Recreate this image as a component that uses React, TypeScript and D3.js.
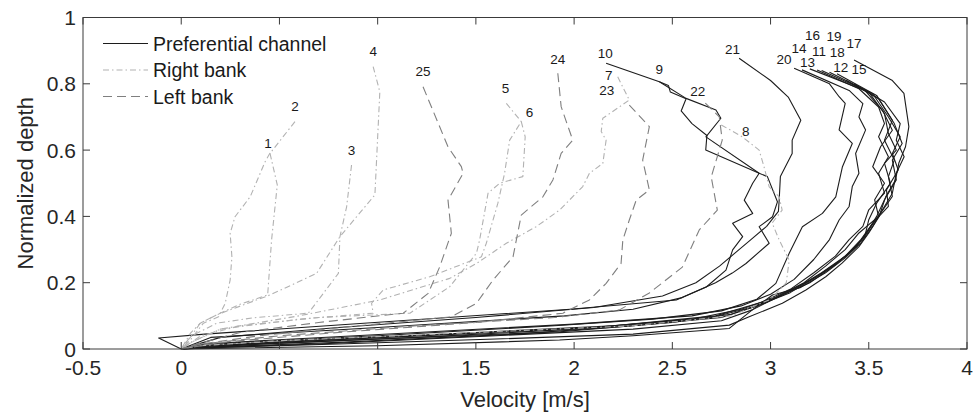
import React, { useEffect, useRef } from "react";
import * as d3 from "d3";

interface Profile {
    id: number;
    v: number[];
    d: number[];
}

// Right bank profiles (dash-dot)
const rightBank: Profile[] = [
    { id: 1, v: [0.452, 0.427, 0.351, 0.274, 0.249, 0.258, 0.249, 0.224, 0.19, 0.113, 0.046, 0], d: [0.591, 0.565, 0.459, 0.399, 0.349, 0.278, 0.208, 0.138, 0.097, 0.078, 0.027, 0] },
    { id: 2, v: [0.579, 0.452, 0.489, 0.46, 0.44, 0.3, 0.181, 0.097, 0.04, 0], d: [0.686, 0.59, 0.495, 0.329, 0.163, 0.135, 0.103, 0.078, 0.03, 0] },
    { id: 3, v: [0.867, 0.842, 0.808, 0.8, 0.647, 0.366, 0.181, 0.046, 0], d: [0.555, 0.429, 0.339, 0.228, 0.108, 0.094, 0.078, 0.037, 0] },
    { id: 4, v: [0.977, 1.011, 0.986, 0.808, 0.689, 0.452, 0.181, 0.097, 0.046, 0], d: [0.852, 0.776, 0.465, 0.339, 0.228, 0.163, 0.103, 0.078, 0.047, 0] },
    { id: 5, v: [1.655, 1.731, 1.672, 1.646, 1.612, 1.553, 1.528, 1.265, 1.028, 0.969, 0.977, 0.6, 0.2, 0.05, 0], d: [0.741, 0.686, 0.63, 0.53, 0.44, 0.319, 0.278, 0.218, 0.178, 0.138, 0.108, 0.09, 0.06, 0.02, 0] },
    { id: 6, v: [1.731, 1.751, 1.739, 1.621, 1.562, 1.519, 1.503, 1.367, 1.164, 0.7, 0.3, 0.1, 0], d: [0.686, 0.64, 0.52, 0.5, 0.47, 0.329, 0.289, 0.188, 0.108, 0.095, 0.07, 0.04, 0] },
    { id: 7, v: [2.222, 2.281, 2.146, 2.138, 2.163, 2.146, 2.078, 2.044, 1.926, 1.807, 1.655, 1.503, 1.367, 1.011, 0.6, 0.2, 0.05, 0], d: [0.821, 0.751, 0.696, 0.656, 0.63, 0.56, 0.53, 0.49, 0.419, 0.369, 0.319, 0.258, 0.213, 0.148, 0.1, 0.06, 0.02, 0] },
    { id: 8, v: [2.749, 2.856, 2.942, 2.967, 2.993, 3.044, 3.059, 3.008, 3.044, 3.095, 3.08, 3.0, 2.8, 2.3, 1.5, 0.5, 0.1, 0], d: [0.676, 0.64, 0.6, 0.549, 0.489, 0.459, 0.419, 0.38, 0.329, 0.268, 0.2, 0.15, 0.1, 0.07, 0.05, 0.025, 0.01, 0] },
];

// Left bank profiles (dashed)
const leftBank: Profile[] = [
    { id: 22, v: [2.668, 2.739, 2.754, 2.698, 2.729, 2.637, 2.551, 2.383, 2.231, 1.9, 1.2, 0.5, 0.1, 0], d: [0.742, 0.7, 0.63, 0.519, 0.419, 0.359, 0.247, 0.169, 0.118, 0.095, 0.07, 0.04, 0.015, 0] },
    { id: 23, v: [2.281, 2.383, 2.349, 2.383, 2.316, 2.281, 2.248, 2.239, 2.163, 2.078, 1.943, 1.5, 0.8, 0.2, 0], d: [0.736, 0.671, 0.57, 0.48, 0.449, 0.389, 0.329, 0.258, 0.198, 0.148, 0.108, 0.08, 0.05, 0.02, 0] },
    { id: 24, v: [1.917, 1.934, 1.993, 1.934, 1.892, 1.841, 1.731, 1.706, 1.689, 1.587, 1.503, 1.375, 0.9, 0.4, 0.1, 0], d: [0.832, 0.731, 0.63, 0.59, 0.51, 0.459, 0.404, 0.329, 0.278, 0.208, 0.138, 0.097, 0.07, 0.04, 0.015, 0] },
    { id: 25, v: [1.231, 1.358, 1.426, 1.435, 1.358, 1.375, 1.316, 1.257, 1.13, 0.7, 0.3, 0.05, 0], d: [0.791, 0.61, 0.55, 0.53, 0.449, 0.349, 0.248, 0.168, 0.108, 0.08, 0.05, 0.01, 0] },
];

// Preferential channel profiles (solid)
const channel: Profile[] = [
    { id: 9, v: [2.434, 2.48, 2.49, 2.57, 2.545, 2.6, 2.676, 2.67, 2.942, 2.984, 3.035, 3.01, 2.942, 2.993, 2.875, 2.805, 2.72, 2.55, 2.3, 1.95, 1.0, 0.15, 0], d: [0.806, 0.795, 0.775, 0.755, 0.718, 0.68, 0.644, 0.6, 0.53, 0.52, 0.444, 0.399, 0.369, 0.319, 0.258, 0.229, 0.2, 0.155, 0.12, 0.1, 0.065, 0.035, 0] },
    { id: 10, v: [2.163, 2.434, 2.57, 2.722, 2.747, 2.671, 2.942, 2.909, 2.866, 2.909, 2.807, 2.858, 2.807, 2.773, 2.673, 2.52, 1.98, 0.12, -0.115, 0], d: [0.862, 0.806, 0.756, 0.721, 0.696, 0.64, 0.53, 0.5, 0.449, 0.409, 0.379, 0.339, 0.299, 0.238, 0.187, 0.148, 0.12, 0.045, 0.033, 0] },
    { id: 11, v: [3.26, 3.5, 3.58, 3.6, 3.64, 3.58, 3.61, 3.54, 3.5, 3.48, 3.4, 3.32, 3.2, 3.05, 2.9, 2.7, 2.1, 1.4, 0.5, 0.12, 0], d: [0.84, 0.775, 0.71, 0.65, 0.6, 0.56, 0.5, 0.44, 0.39, 0.34, 0.29, 0.25, 0.2, 0.16, 0.125, 0.095, 0.065, 0.045, 0.02, 0.008, 0] },
    { id: 12, v: [3.384, 3.55, 3.63, 3.67, 3.62, 3.64, 3.58, 3.54, 3.49, 3.42, 3.33, 3.21, 3.06, 2.907, 2.75, 2.3, 1.6, 0.7, 0.15, 0], d: [0.811, 0.755, 0.68, 0.62, 0.57, 0.51, 0.45, 0.4, 0.35, 0.3, 0.255, 0.21, 0.165, 0.118, 0.085, 0.06, 0.04, 0.015, 0.005, 0] },
    { id: 13, v: [3.237, 3.45, 3.55, 3.58, 3.55, 3.6, 3.55, 3.58, 3.5, 3.47, 3.4, 3.33, 3.22, 3.1, 2.95, 2.72, 2.2, 1.5, 0.6, 0.15, 0], d: [0.842, 0.785, 0.73, 0.68, 0.64, 0.58, 0.53, 0.47, 0.42, 0.37, 0.33, 0.28, 0.23, 0.18, 0.14, 0.1, 0.07, 0.05, 0.025, 0.01, 0] },
    { id: 14, v: [3.16, 3.4, 3.47, 3.45, 3.484, 3.433, 3.45, 3.416, 3.4, 3.349, 3.3, 3.22, 3.12, 3.0, 2.85, 2.6, 2.0, 1.2, 0.4, 0.12, 0], d: [0.842, 0.78, 0.74, 0.7, 0.661, 0.59, 0.53, 0.49, 0.43, 0.389, 0.33, 0.27, 0.21, 0.165, 0.13, 0.1, 0.075, 0.05, 0.025, 0.015, 0] },
    { id: 15, v: [3.425, 3.58, 3.66, 3.64, 3.68, 3.64, 3.62, 3.57, 3.52, 3.46, 3.38, 3.28, 3.15, 3.01, 2.907, 2.79, 2.3, 1.926, 1.0, 0.3, 0], d: [0.8, 0.745, 0.68, 0.63, 0.58, 0.53, 0.47, 0.42, 0.37, 0.32, 0.275, 0.23, 0.185, 0.163, 0.118, 0.062, 0.04, 0.027, 0.01, 0.003, 0] },
    { id: 16, v: [3.2, 3.48, 3.57, 3.62, 3.56, 3.52, 3.58, 3.53, 3.55, 3.45, 3.38, 3.28, 3.17, 3.02, 2.85, 2.6, 2.0, 1.2, 0.4, 0], d: [0.845, 0.78, 0.72, 0.66, 0.61, 0.55, 0.5, 0.45, 0.4, 0.35, 0.3, 0.25, 0.2, 0.155, 0.12, 0.09, 0.06, 0.035, 0.015, 0] },
    { id: 17, v: [3.425, 3.618, 3.679, 3.704, 3.687, 3.653, 3.636, 3.586, 3.552, 3.5, 3.45, 3.364, 3.281, 3.18, 3.06, 2.891, 2.79, 2.3, 1.6, 0.8, 0.2, 0], d: [0.872, 0.811, 0.771, 0.671, 0.61, 0.561, 0.51, 0.459, 0.399, 0.35, 0.309, 0.259, 0.218, 0.178, 0.138, 0.097, 0.072, 0.045, 0.03, 0.015, 0.005, 0] },
    { id: 18, v: [3.338, 3.54, 3.62, 3.58, 3.63, 3.6, 3.62, 3.56, 3.5, 3.44, 3.35, 3.24, 3.1, 2.93, 2.75, 2.3, 1.7, 0.8, 0.2, 0], d: [0.83, 0.765, 0.69, 0.63, 0.57, 0.52, 0.46, 0.41, 0.36, 0.31, 0.265, 0.22, 0.17, 0.13, 0.095, 0.07, 0.045, 0.02, 0.007, 0] },
    { id: 19, v: [3.3, 3.52, 3.6, 3.66, 3.62, 3.65, 3.59, 3.6, 3.52, 3.46, 3.38, 3.26, 3.12, 2.98, 2.8, 2.5, 1.93, 1.0, 0.3, 0], d: [0.835, 0.77, 0.7, 0.64, 0.59, 0.54, 0.48, 0.43, 0.38, 0.33, 0.28, 0.23, 0.18, 0.14, 0.105, 0.08, 0.052, 0.03, 0.012, 0] },
    { id: 20, v: [3.12, 3.3, 3.349, 3.38, 3.349, 3.416, 3.366, 3.332, 3.264, 3.162, 3.095, 3.027, 2.93, 2.75, 2.4, 1.9, 1.0, 0.3, 0.1, 0], d: [0.847, 0.8, 0.761, 0.741, 0.661, 0.62, 0.55, 0.459, 0.409, 0.369, 0.289, 0.198, 0.15, 0.115, 0.09, 0.07, 0.04, 0.02, 0.01, 0] },
    { id: 21, v: [2.84, 3.0, 3.09, 3.154, 3.11, 3.11, 3.05, 3.044, 3.04, 2.98, 2.9, 2.82, 2.74, 2.62, 2.45, 2.1, 1.5, 0.8, 0.2, 0], d: [0.877, 0.81, 0.76, 0.69, 0.63, 0.59, 0.52, 0.45, 0.415, 0.37, 0.33, 0.29, 0.25, 0.2, 0.16, 0.125, 0.095, 0.065, 0.035, 0] },
];

// Profile number annotations (data units)
const labelIds = [1, 2, 3, 4, 5, 6, 7, 8, 9, 10, 11, 12, 13, 14, 15, 16, 17, 18, 19, 20, 21, 22, 23, 24, 25];
const labelV = [0.442, 0.579, 0.867, 0.977, 1.651, 1.773, 2.176, 2.874, 2.434, 2.158, 3.247, 3.357, 3.188, 3.145, 3.45, 3.213, 3.425, 3.34, 3.323, 3.069, 2.806, 2.629, 2.166, 1.917, 1.231];
const labelD = [0.62, 0.731, 0.598, 0.897, 0.786, 0.713, 0.826, 0.656, 0.842, 0.89, 0.897, 0.849, 0.864, 0.907, 0.842, 0.947, 0.922, 0.894, 0.942, 0.874, 0.904, 0.776, 0.781, 0.872, 0.837];

const xTicks = [-0.5, 0, 0.5, 1, 1.5, 2, 2.5, 3, 3.5, 4];
const yTicks = [0, 0.2, 0.4, 0.6, 0.8, 1];
const legendNames = ["Preferential channel", "Right bank", "Left bank"];

const FONT = "'Liberation Sans', Arial, Helvetica, sans-serif";

export default function App() {
    const svgRef = useRef<SVGSVGElement>(null);

    useEffect(() => {
        if (!svgRef.current) return;
        const root = d3.select(svgRef.current);
        root.selectAll("*").remove();

        const W = 976, H = 417;
        const margin = { top: 17.5, right: 9, bottom: 68, left: 83 };
        const width = W - margin.left - margin.right;
        const height = H - margin.top - margin.bottom;

        const x = d3.scaleLinear().domain([-0.5, 4]).range([0, width]);
        const y = d3.scaleLinear().domain([0, 1]).range([height, 0]);

        const g = root.append("g").attr("transform", `translate(${margin.left},${margin.top})`);

        const styles = {
            channel: { stroke: "#1c1c1c", dash: null as string | null, width: 1.1 },
            right: { stroke: "#b2b2b2", dash: "6,3,1.5,3", width: 1.1 },
            left: { stroke: "#7f7f7f", dash: "9,5", width: 1.1 },
        };

        const drawGroup = (profiles: Profile[], st: { stroke: string; dash: string | null; width: number }) => {
            profiles.forEach(p => {
                const line = d3.line<number>()
                    .x((_, i) => x(p.v[i]))
                    .y((_, i) => y(p.d[i]));
                g.append("path")
                    .attr("d", line(p.v))
                    .attr("fill", "none")
                    .attr("stroke", st.stroke)
                    .attr("stroke-width", st.width)
                    .attr("stroke-dasharray", st.dash)
                    .attr("stroke-linejoin", "round");
            });
        };

        drawGroup(channel, styles.channel);
        drawGroup(rightBank, styles.right);
        drawGroup(leftBank, styles.left);

        // Profile numbers
        labelIds.forEach((id, i) => {
            g.append("text")
                .attr("x", x(labelV[i]))
                .attr("y", y(labelD[i]))
                .attr("text-anchor", "middle")
                .attr("dominant-baseline", "central")
                .style("font-family", FONT)
                .style("font-size", "13.5px")
                .style("fill", "#1a1a1a")
                .text(id);
        });

        // Axes box and inward ticks
        const axisColor = "#3a3a3a";
        g.append("rect")
            .attr("width", width).attr("height", height)
            .attr("fill", "none").attr("stroke", axisColor).attr("stroke-width", 1);

        const tl = 7;
        xTicks.forEach(t => {
            g.append("line").attr("x1", x(t)).attr("x2", x(t)).attr("y1", height).attr("y2", height - tl).attr("stroke", axisColor);
            g.append("line").attr("x1", x(t)).attr("x2", x(t)).attr("y1", 0).attr("y2", tl).attr("stroke", axisColor);
            g.append("text")
                .attr("x", x(t)).attr("y", height + 18)
                .attr("text-anchor", "middle").attr("dominant-baseline", "central")
                .style("font-family", FONT).style("font-size", "21px").style("fill", "#262626")
                .text(String(t));
        });
        yTicks.forEach(t => {
            g.append("line").attr("x1", 0).attr("x2", tl).attr("y1", y(t)).attr("y2", y(t)).attr("stroke", axisColor);
            g.append("line").attr("x1", width).attr("x2", width - tl).attr("y1", y(t)).attr("y2", y(t)).attr("stroke", axisColor);
            g.append("text")
                .attr("x", -7).attr("y", y(t))
                .attr("text-anchor", "end").attr("dominant-baseline", "central")
                .style("font-family", FONT).style("font-size", "21px").style("fill", "#262626")
                .text(String(t));
        });

        // Axis titles
        g.append("text")
            .attr("x", width / 2).attr("y", height + 50)
            .attr("text-anchor", "middle").attr("dominant-baseline", "central")
            .style("font-family", FONT).style("font-size", "22px").style("fill", "#262626")
            .text("Velocity [m/s]");
        g.append("text")
            .attr("transform", `translate(${-58},${height / 2}) rotate(-90)`)
            .attr("text-anchor", "middle").attr("dominant-baseline", "central")
            .style("font-family", FONT).style("font-size", "22px").style("fill", "#262626")
            .text("Normalized depth");

        // Legend
        const legendStyles = [styles.channel, styles.right, styles.left];
        legendNames.forEach((name, i) => {
            const ly = 26 + i * 26.5;
            g.append("line")
                .attr("x1", 20).attr("x2", 65).attr("y1", ly).attr("y2", ly)
                .attr("stroke", legendStyles[i].stroke)
                .attr("stroke-width", legendStyles[i].width)
                .attr("stroke-dasharray", legendStyles[i].dash);
            g.append("text")
                .attr("x", 70).attr("y", ly)
                .attr("dominant-baseline", "central")
                .style("font-family", FONT).style("font-size", "19.5px").style("fill", "#1a1a1a")
                .text(name);
        });
    }, []);

    return (
        <svg
            ref={svgRef}
            width={976}
            height={417}
            style={{ position: "absolute", left: 0, top: 0, background: "#fff" }}
        />
    );
}
